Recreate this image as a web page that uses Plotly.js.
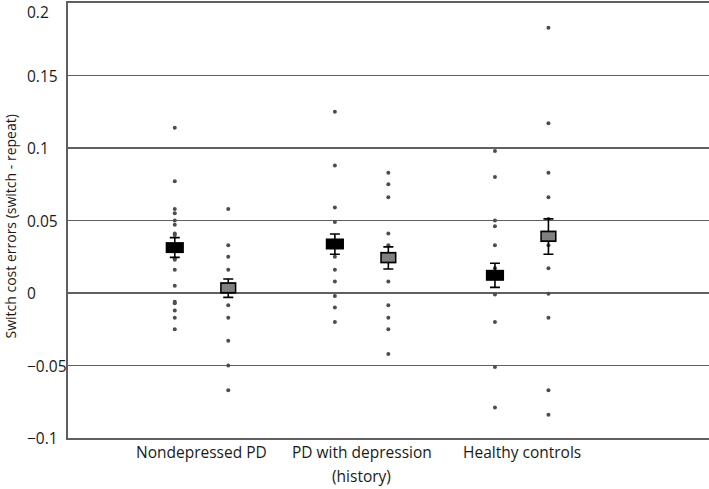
<!DOCTYPE html>
<html>
<head>
<meta charset="utf-8">
<script src="https://cdn.plot.ly/plotly-3.0.1.min.js"></script>
<style>html,body{margin:0;padding:0;background:#fff;}#chart{width:709px;height:489px;}</style>
</head>
<body>
<div id="chart"></div>
<script>
// ---- data ----
// category labels, one entry per text line
var groupLabels = [["Nondepressed PD"], ["PD with depression", "(history)"], ["Healthy controls"]];

// individual participant values, black (first) condition
var condA_points = [
  [0.114, 0.077, 0.058, 0.055, 0.050, 0.047, 0.041, 0.040, 0.024, 0.023, 0.016, 0.005, -0.006, -0.007, -0.012, -0.017, -0.025],
  [0.125, 0.088, 0.059, 0.049, 0.025, 0.016, 0.008, -0.002, -0.010, -0.020],
  [0.098, 0.080, 0.050, 0.046, 0.033, 0.017, -0.001, -0.020, -0.051, -0.079]
];
// individual participant values, gray (second) condition
var condB_points = [
  [0.058, 0.033, 0.025, 0.016, -0.0085, -0.017, -0.033, -0.050, -0.067],
  [0.083, 0.075, 0.066, 0.041, 0.033, 0.008, -0.0085, -0.017, -0.025, -0.042],
  [0.183, 0.117, 0.083, 0.066, 0.051, 0.033, 0.017, -0.0005, -0.017, -0.067, -0.084]
];

var condA_mean = [0.0313, 0.0338, 0.0122];
var condA_errPlus = [0.0069, 0.0069, 0.0083];
var condA_errMinus = [0.0067, 0.0071, 0.0083];

var condB_mean = [0.0035, 0.0244, 0.0391];
var condB_errPlus = [0.0062, 0.0074, 0.0120];
var condB_errMinus = [0.0065, 0.0078, 0.0124];

var yTickVals = [-0.1, -0.05, 0, 0.05, 0.1, 0.15, 0.2];
var yTickText = ["\u22120.1", "\u22120.05", "0", "0.05", "0.1", "0.15", "0.2"];
var yTitle = "Switch cost errors (switch - repeat)";

// ---- build traces ----
var offset = 0.167;
var groupPos = groupLabels.map(function (_, i) { return i + 1; });
var font = "Open Sans, Noto Sans, sans-serif";
var txtColor = "#1a1a1a";

function dotTrace(pointsByGroup, dx) {
  var xs = [], ys = [];
  pointsByGroup.forEach(function (arr, i) {
    arr.forEach(function (v) { xs.push(groupPos[i] + dx); ys.push(v); });
  });
  return {
    type: "scatter", mode: "markers", x: xs, y: ys, hoverinfo: "skip",
    marker: { symbol: "circle", size: 4, color: "#4d4d4d", line: { width: 0 } },
    showlegend: false
  };
}

var xA = groupPos.map(function (p) { return p - offset; });
var xB = groupPos.map(function (p) { return p + offset; });

var traces = [
  dotTrace(condA_points, -offset),
  dotTrace(condB_points, offset),
  {
    type: "scatter", mode: "markers", x: xA, y: condA_mean, showlegend: false,
    error_y: { type: "data", symmetric: false, array: condA_errPlus, arrayminus: condA_errMinus,
               color: "#000", thickness: 1.6, width: 5 },
    marker: { symbol: "line-ew", size: 13, color: "#000", line: { color: "#000", width: 11 } }
  },
  {
    type: "scatter", mode: "markers", x: xB, y: condB_mean, showlegend: false,
    error_y: { type: "data", symmetric: false, array: condB_errPlus, arrayminus: condB_errMinus,
               color: "#000", thickness: 1.6, width: 5 },
    marker: { symbol: "line-ew", size: 11.6, color: "#000", line: { color: "#000", width: 11.5 } }
  },
  {
    type: "scatter", mode: "markers", x: xB, y: condB_mean, showlegend: false, hoverinfo: "skip",
    marker: { symbol: "line-ew", size: 9.4, color: "#808080", line: { color: "#808080", width: 8 } }
  }
];

// y tick labels, left-aligned as in the reference
var yMax = Math.max.apply(null, yTickVals);
var annotations = yTickVals.map(function (v, i) {
  var isTop = v === yMax;
  return {
    xref: "paper", yref: "y", x: 0, y: v, xshift: -42, showarrow: false,
    text: yTickText[i], xanchor: "left", yanchor: isTop ? "top" : "middle",
    yshift: isTop ? 3 : 0, borderpad: 0,
    font: { family: font, size: 15.5, color: txtColor }
  };
});
// category labels below the axis
groupLabels.forEach(function (lines, i) {
  lines.forEach(function (line, j) {
    annotations.push({
      xref: "x", yref: "paper", x: groupPos[i], y: 0, yshift: -14 - 24 * j,
      showarrow: false, text: line, xanchor: "center", yanchor: "middle",
      font: { family: font, size: 15.5, color: txtColor }
    });
  });
});
// y axis title
annotations.push({
  xref: "paper", yref: "paper", x: 0, y: 0.5, xshift: -58, yshift: -6, showarrow: false,
  text: yTitle, textangle: -90, xanchor: "center", yanchor: "middle",
  font: { family: font, size: 14, color: txtColor }
});

var layout = {
  width: 709, height: 489,
  margin: { l: 68, r: 0, t: 3, b: 51 },
  paper_bgcolor: "#fff", plot_bgcolor: "#fff",
  showlegend: false,
  font: { family: font, size: 14, color: txtColor },
  xaxis: {
    range: [0.166, 4.17], tickvals: groupPos, showticklabels: false,
    showgrid: false, zeroline: false, showline: true, mirror: true,
    linecolor: "#606060", linewidth: 1.6, ticks: ""
  },
  yaxis: {
    range: [-0.1, 0.2], tickvals: yTickVals, showticklabels: false,
    showgrid: true, gridcolor: "#606060", gridwidth: 1.6,
    zeroline: false, showline: true, linecolor: "#606060", linewidth: 1.6, ticks: ""
  },
  annotations: annotations
};

Plotly.newPlot("chart", traces, layout, { staticPlot: true, displayModeBar: false });
</script>
</body>
</html>
